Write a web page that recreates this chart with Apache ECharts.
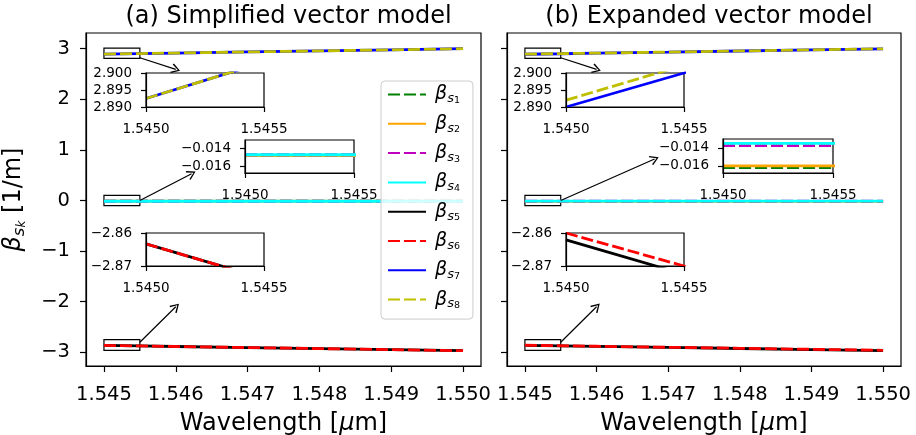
<!DOCTYPE html>
<html>
<head>
<meta charset="utf-8">
<script src="https://cdn.jsdelivr.net/npm/echarts@6/dist/echarts.min.js"></script>
<style>
  html, body { margin: 0; padding: 0; background: #fff; }
  #chart { width: 916px; height: 435px; }
</style>
</head>
<body>
<div id="chart"></div>
<script>
// wavelength samples [um]
const wavelength = [1.545, 1.5455, 1.546, 1.547, 1.548, 1.549, 1.550];

// (a) Simplified vector model, beta_sk [1/m]
const a_s1 = [-0.0148, -0.0148, -0.0148, -0.0148, -0.0148, -0.0148, -0.0148];
const a_s2 = [-0.0148, -0.0148, -0.0148, -0.0148, -0.0148, -0.0148, -0.0148];
const a_s3 = [-0.0147, -0.0147, -0.0147, -0.0147, -0.0147, -0.0147, -0.0147];
const a_s4 = [-0.0147, -0.0147, -0.0147, -0.0147, -0.0147, -0.0147, -0.0147];
const a_s5 = [-2.8633, -2.8738, -2.8843, -2.9052, -2.9262, -2.9471, -2.9680];
const a_s6 = [-2.8633, -2.8738, -2.8843, -2.9052, -2.9262, -2.9471, -2.9680];
const a_s7 = [2.8925, 2.9032, 2.9139, 2.9353, 2.9567, 2.9781, 2.9995];
const a_s8 = [2.8925, 2.9032, 2.9139, 2.9353, 2.9567, 2.9781, 2.9995];

// (b) Expanded vector model
const b_s1 = [-0.0162, -0.0162, -0.0162, -0.0162, -0.0162, -0.0162, -0.0162];
const b_s2 = [-0.0160, -0.0160, -0.0160, -0.0160, -0.0160, -0.0160, -0.0160];
const b_s3 = [-0.01375, -0.01375, -0.01375, -0.01375, -0.01375, -0.01375, -0.01375];
const b_s4 = [-0.0135, -0.0135, -0.0135, -0.0135, -0.0135, -0.0135, -0.0135];
const b_s5 = [-2.8621, -2.8725, -2.8829, -2.9037, -2.9245, -2.9453, -2.9661];
const b_s6 = [-2.8600, -2.8700, -2.8800, -2.9000, -2.9200, -2.9400, -2.9600];
const b_s7 = [2.8900, 2.9000, 2.9105, 2.9320, 2.9540, 2.9760, 2.9980];
const b_s8 = [2.8920, 2.9023, 2.9126, 2.9338, 2.9550, 2.9765, 2.9980];

const seriesNames = ['s1', 's2', 's3', 's4', 's5', 's6', 's7', 's8'];
const seriesColors = ['#008000', '#ffa500', '#bf00bf', '#00ffff', '#000000', '#ff0000', '#0000ff', '#bfbf00'];
const seriesDashed = [true, false, true, false, false, true, false, true];

// axis ranges and ticks
const mainXTicks = [1.545, 1.546, 1.547, 1.548, 1.549, 1.550];
const mainYTicks = [-3, -2, -1, 0, 1, 2, 3];
const insetXTicks = [1.5450, 1.5455];
const insetTopTicks = [2.890, 2.895, 2.900];
const insetMidTicks = [-0.016, -0.014];
const insetBotTicks = [-2.87, -2.86];

// zoom boxes on the main plots [x0, y0, x1, y1]
const zoomBoxes = [
  [1.545, 2.81, 1.5455, 3.01],
  [1.545, -0.1, 1.5455, 0.1],
  [1.545, -2.96, 1.5455, -2.75]
];
// arrows [x0, y0, x1, y1]
const arrowsA = [
  [1.5455, 2.82, 1.546, 2.59],
  [1.5455, 0, 1.54622, 0.53],
  [1.5455, -2.80, 1.546, -2.10]
];
const arrowsB = [
  [1.5455, 2.82, 1.546, 2.59],
  [1.5455, 0, 1.54681, 0.82],
  [1.5455, -2.80, 1.546, -2.10]
];

const FONT = 'DejaVu Sans';
const minus = s => s.replace('-', '\u2212');

const grids = [
  { left: 86, top: 33, width: 395, height: 333, z: 0 },     // main a
  { left: 507, top: 33, width: 394, height: 333, z: 0 },    // main b
  { left: 146, top: 73, width: 118, height: 34, z: 10 },    // a top inset
  { left: 245, top: 140, width: 109, height: 33, z: 10 },   // a mid inset
  { left: 146, top: 233, width: 118, height: 33, z: 10 },   // a bottom inset
  { left: 566, top: 73, width: 118, height: 34, z: 10 },    // b top inset
  { left: 723, top: 139, width: 110, height: 34, z: 10 },   // b mid inset
  { left: 566, top: 233, width: 118, height: 33, z: 10 }    // b bottom inset
].map(g => Object.assign({
  show: true, backgroundColor: g.z ? '#fff' : 'transparent',
  borderColor: '#000', borderWidth: 1.2, outerBoundsMode: 'none', containLabel: false
}, g));

function axis(gi, min, max, ticks, digits, isMain, showLabels, zz) {
  return {
    type: 'value', gridIndex: gi, min, max, z: zz,
    splitLine: { show: false },
    axisLine: { show: true, onZero: false, lineStyle: { color: '#000', width: 1.2 } },
    axisTick: { show: true, customValues: ticks, length: isMain ? 6 : 5, lineStyle: { color: '#000', width: 1.2 } },
    axisLabel: {
      show: showLabels, customValues: ticks, color: '#000', fontFamily: FONT,
      fontSize: isMain ? 19.5 : 13.5, margin: isMain ? 16 : 14,
      formatter: v => minus(v.toFixed(digits))
    }
  };
}

// rich styles for beta_{s_k} (legend, 19px)
const legendRich = {
  b: { fontSize: 19, fontStyle: 'italic', fontFamily: FONT, lineHeight: 22, verticalAlign: 'middle', padding: [0, 0, 0, 4] },
  s: { fontSize: 13, fontStyle: 'italic', fontFamily: FONT, lineHeight: 13.4, verticalAlign: 'bottom' },
  k: { fontSize: 9.5, fontFamily: FONT, lineHeight: 4.4, verticalAlign: 'bottom' }
};
// rich styles for axis names (24px)
const nameRich = {
  b: { fontSize: 24, fontStyle: 'italic', fontFamily: FONT, lineHeight: 28, verticalAlign: 'middle' },
  s: { fontSize: 16.5, fontStyle: 'italic', fontFamily: FONT, lineHeight: 17.2, verticalAlign: 'bottom' },
  k: { fontSize: 12, fontStyle: 'italic', fontFamily: FONT, lineHeight: 5.6, verticalAlign: 'bottom' },
  t: { fontSize: 24, fontFamily: FONT, lineHeight: 28, verticalAlign: 'middle' },
  mu: { fontSize: 24, fontStyle: 'italic', fontFamily: FONT, lineHeight: 28 }
};

const xAxes = [], yAxes = [];
// main axes
[0, 1].forEach(gi => {
  const x = axis(gi, 1.54475, 1.55025, mainXTicks, 3, true, true, 1);
  x.axisLabel.margin = 19;
  x.name = 'Wavelength [{mu|\u03bc}m]';
  x.nameLocation = 'middle';
  x.nameGap = 37;
  x.nameTextStyle = { fontSize: 24, fontFamily: FONT, color: '#000', lineHeight: 28, rich: nameRich };
  xAxes.push(x);
  const y = axis(gi, -3.27, 3.31, mainYTicks, 0, true, gi === 0, 1);
  if (gi === 0) {
    y.name = '{b|\u03b2}{s|s}{k|k}{t| [1/m]}';
    y.nameLocation = 'middle';
    y.nameRotate = 90;
    y.nameGap = 58;
    y.nameTextStyle = { color: '#000', rich: nameRich };
  }
  yAxes.push(y);
});
// inset axes
const insetY = [
  [2.890, 2.900, insetTopTicks, 3],
  [-0.0168, -0.0130, insetMidTicks, 3],
  [-2.87, -2.86, insetBotTicks, 2]
];
for (let p = 0; p < 2; p++) {
  insetY.forEach((r, j) => {
    const gi = 2 + p * 3 + j;
    xAxes.push(axis(gi, 1.5450, 1.5455, insetXTicks, 4, false, true, 12));
    xAxes[gi].axisLabel.margin = 15;
    yAxes.push(axis(gi, r[0], r[1], r[2], r[3], false, true, 12));
  });
}

function lineSeries(k, gi, ys, z) {
  return {
    name: seriesNames[k], type: 'line', xAxisIndex: gi, yAxisIndex: gi,
    data: wavelength.map((w, i) => [w, ys[i]]),
    symbol: 'none', z: z + k * 0.1, clip: true, silent: true, animation: false,
    color: seriesColors[k],
    lineStyle: { color: seriesColors[k], width: 2.8, type: seriesDashed[k] ? [12, 4] : 'solid' }
  };
}

const panelA = [a_s1, a_s2, a_s3, a_s4, a_s5, a_s6, a_s7, a_s8];
const panelB = [b_s1, b_s2, b_s3, b_s4, b_s5, b_s6, b_s7, b_s8];
const insetGroups = [[6, 7], [0, 1, 2, 3], [4, 5]]; // top, mid, bottom

const series = [];
[panelA, panelB].forEach((panel, p) => {
  panel.forEach((ys, k) => series.push(lineSeries(k, p, ys, 2)));
  insetGroups.forEach((grp, j) => {
    grp.forEach(k => series.push(lineSeries(k, 2 + p * 3 + j, panel[k], 11)));
  });
});

const arrowHead = 'path://M5,0 L10,9 L8.8,10 L5,2.6 L1.2,10 L0,9 Z';
[arrowsA, arrowsB].forEach((arrows, p) => {
  series.push({
    name: 'annot' + p, type: 'line', xAxisIndex: p, yAxisIndex: p, data: [],
    symbol: 'none', z: 5, silent: true, animation: false,
    markArea: {
      silent: true,
      itemStyle: { color: 'rgba(0,0,0,0)', borderColor: '#000', borderWidth: 1.2 },
      label: { show: false },
      data: zoomBoxes.map(b => [{ coord: [b[0], b[1]] }, { coord: [b[2], b[3]] }])
    },
    markLine: {
      silent: true, animation: false,
      symbol: ['none', arrowHead], symbolSize: [10, 9],
      lineStyle: { color: '#000', width: 1.2, type: 'solid' },
      label: { show: false },
      data: arrows.map(a => [{ coord: [a[0], a[1]] }, { coord: [a[2], a[3]] }])
    }
  });
});

const chart = echarts.init(document.getElementById('chart'));
chart.setOption({
  animation: false,
  backgroundColor: '#fff',
  textStyle: { fontFamily: FONT, color: '#000' },
  title: [
    { text: '(a) Simplified vector model', left: 283.5, textAlign: 'center', top: 0,
      textStyle: { fontSize: 24, fontWeight: 'normal', fontFamily: FONT, color: '#000' } },
    { text: '(b) Expanded vector model', left: 704, textAlign: 'center', top: 0,
      textStyle: { fontSize: 24, fontWeight: 'normal', fontFamily: FONT, color: '#000' } }
  ],
  legend: {
    data: seriesNames, orient: 'vertical', left: 381, top: 81,
    padding: [4, 13, 8.5, 6], itemGap: 8.8, itemWidth: 38, itemHeight: 14,
    backgroundColor: 'rgba(255,255,255,0.8)', borderColor: '#cccccc', borderWidth: 1, borderRadius: 4,
    selectedMode: false,
    itemStyle: { color: 'rgba(0,0,0,0)', borderColor: 'rgba(0,0,0,0)', borderWidth: 0, opacity: 0 },
    formatter: name => '{b|\u03b2}{s|s}{k|' + name.slice(1) + '}',
    textStyle: { rich: legendRich }
  },
  grid: grids,
  xAxis: xAxes,
  yAxis: yAxes,
  series: series
});
</script>
</body>
</html>
